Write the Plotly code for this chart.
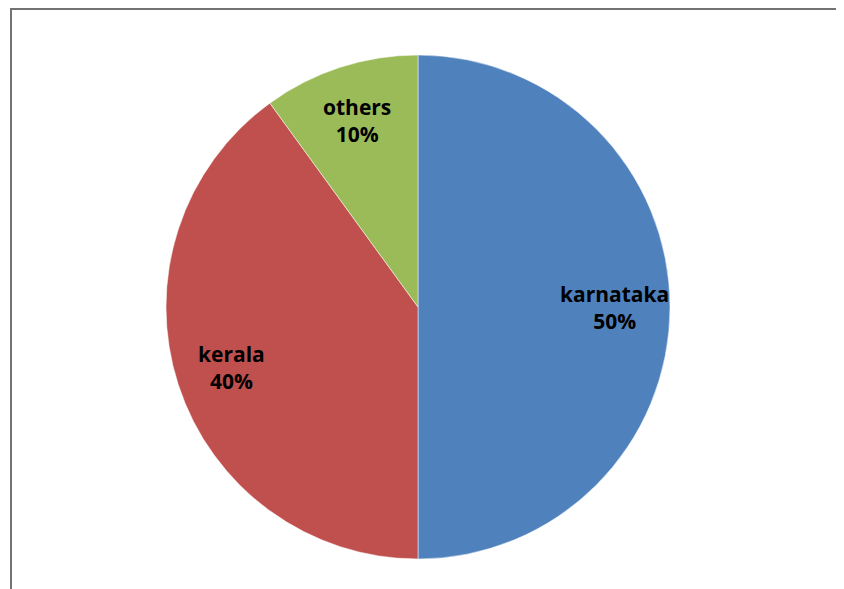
import math
import plotly.graph_objects as go

labels = ["karnataka", "kerala", "others"]
values = [50, 40, 10]
colors = ["#4F81BD", "#C0504D", "#9BBB59"]

# page has an 8px body margin; figure fills the rest of the 844x589 window
OFF = 8
W, H = 844 - OFF, 589 - OFF
CX, CY, R = 418 - OFF, 307 - OFF, 252  # pie centre/radius in figure pixels
LABEL_R = 0.78

fig = go.Figure(go.Pie(
    labels=labels, values=values, sort=False, direction="clockwise", rotation=0,
    marker=dict(colors=colors, line=dict(color="white", width=0.5)),
    textinfo="none",
    domain=dict(x=[(CX - R) / W, (CX + R) / W], y=[1 - (CY + R) / H, 1 - (CY - R) / H]),
    showlegend=False, hoverinfo="label+percent",
))

total = sum(values)
annotations = []
cum = 0
for lab, v in zip(labels, values):
    theta = 2 * math.pi * (cum + v / 2) / total
    cum += v
    px = CX + LABEL_R * R * math.sin(theta)
    py = CY - LABEL_R * R * math.cos(theta)
    annotations.append(dict(
        x=px / W, y=1 - py / H, xref="paper", yref="paper", showarrow=False,
        xanchor="center", yanchor="middle",
        text=f"{lab}<br>{round(100 * v / total)}%", align="center",
        font=dict(family="Open Sans", size=21, color="black", weight="bold"),
    ))

fig.update_layout(
    width=W, height=H, margin=dict(l=0, r=0, t=0, b=0),
    paper_bgcolor="white", plot_bgcolor="white",
    annotations=annotations,
    shapes=[
        dict(type="line", xref="paper", yref="paper", x0=2 / W, x1=1, y0=1 - 1 / H, y1=1 - 1 / H,
             line=dict(color="#737373", width=2)),
        dict(type="line", xref="paper", yref="paper", x0=3 / W, x1=3 / W, y0=0, y1=1,
             line=dict(color="#737373", width=2)),
    ],
)
fig.write_html("out.html")
